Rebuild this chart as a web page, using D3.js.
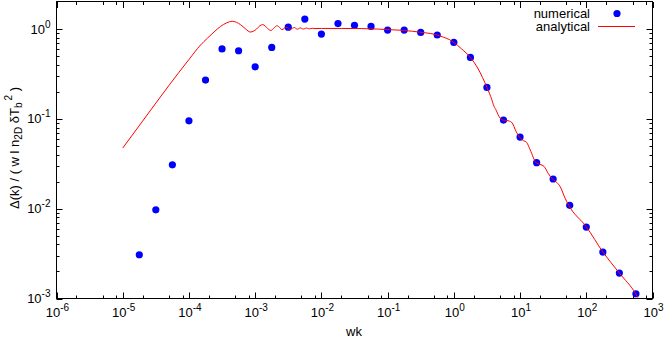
<!DOCTYPE html>
<html>
<head>
<meta charset="utf-8">
<script src="https://cdn.jsdelivr.net/npm/d3@7"></script>
<style>
  body { margin: 0; background: #fff; }
  svg { display: block; font-family: "Liberation Sans", Arial, sans-serif; }
</style>
</head>
<body>
<svg id="chart" width="664" height="338"></svg>
<script>
// numerical points
var numK = [1.78e-5, 3.16e-5, 5.62e-5, 1.0e-4, 1.78e-4, 3.16e-4, 5.62e-4, 1.0e-3, 1.78e-3, 3.16e-3,
  5.62e-3, 1.0e-2, 1.78e-2, 3.16e-2, 5.62e-2, 0.1, 0.178, 0.316, 0.562, 1.0,
  1.78, 3.16, 5.62, 10, 17.8, 31.6, 56.2, 100, 178, 316, 562];
var numV = [0.00307, 0.0097, 0.0308, 0.095, 0.27, 0.60, 0.573, 0.38, 0.624, 1.05,
  1.29, 0.88, 1.15, 1.10, 1.07, 0.975, 0.975, 0.917, 0.858, 0.71,
  0.483, 0.224, 0.097, 0.0627, 0.0325, 0.0214, 0.0109, 0.00624, 0.00329, 0.00192, 0.00113];

// analytical curve
var curveK = [1e-5, 2e-5, 5e-5, 1e-4, 1.5e-4, 1.9e-4, 2.4e-4, 3.0e-4, 3.7e-4, 4.5e-4,
  5.2e-4, 6.0e-4, 7.2e-4, 8.45e-4, 9.5e-4, 1.05e-3, 1.18e-3, 1.30e-3, 1.42e-3, 1.55e-3,
  1.73e-3, 1.93e-3, 2.14e-3, 2.34e-3, 2.54e-3, 2.75e-3, 2.95e-3, 3.17e-3, 3.39e-3, 3.65e-3,
  3.90e-3, 4.1e-3, 4.33e-3, 4.55e-3, 4.80e-3, 5.05e-3, 5.33e-3, 5.6e-3, 5.92e-3, 6.25e-3,
  6.56e-3, 6.9e-3, 7.28e-3, 8.0e-3, 0.01, 0.02, 0.04, 0.07, 0.1, 0.178,
  0.316, 0.45, 0.562, 0.7, 0.85, 1.0, 1.31, 1.78, 2.33, 3.16, 3.75, 3.96,
  4.3, 5.0, 5.49, 6.31, 7.5, 8.71, 9.77, 11.2, 12.6, 14.2,
  17.5, 20.0, 23.1, 26.8, 30.8, 35.8, 40.2, 47.8, 54.3, 100,
  178, 316, 562, 600];
var curveV = [0.0473, 0.0946, 0.236, 0.458, 0.665, 0.79, 0.93, 1.07, 1.17, 1.22,
  1.19, 1.12, 1.0, 0.926, 0.95, 1.0, 1.09, 1.12, 1.08, 1.01,
  0.965, 1.03, 1.09, 1.04, 0.983, 1.02, 1.05, 1.02, 0.99, 1.02,
  1.04, 1.02, 0.995, 1.01, 1.03, 1.015, 1.0, 1.01, 1.025, 1.015,
  1.005, 1.012, 1.02, 1.012, 1.015, 1.015, 1.012, 1.0, 0.985, 0.965,
  0.92, 0.89, 0.858, 0.81, 0.765, 0.71, 0.60, 0.483, 0.36, 0.224, 0.163, 0.1435,
  0.127, 0.102, 0.097, 0.096, 0.0912, 0.0724, 0.0627, 0.0574, 0.0546, 0.0453,
  0.0325, 0.0311, 0.0295, 0.0245, 0.0214, 0.0196, 0.0177, 0.0131, 0.0109, 0.0063,
  0.0033, 0.00192, 0.00112, 0.00103];

var xTicks = [1e-6, 1e-5, 1e-4, 1e-3, 1e-2, 1e-1, 1e0, 1e1, 1e2, 1e3];
var yTicks = [1e-3, 1e-2, 1e-1, 1e0];
var seriesNames = ["numerical", "analytical"];

var pl = 56.5, pr = 652.5, pt = 2, pb = 298.5;

var svg = d3.select("#chart");

var x = d3.scaleLog().domain([1e-6, 1e3]).range([pl, pr]);
var y = d3.scaleLog().domain([1e-3, 2]).range([pb, pt]);

function exp(v) {
  return Math.round(Math.log10(v));
}

// minor ticks: x shows 2,5,8 per decade, y shows all
var xMinor = [];
xTicks.slice(0, -1).forEach(function (d) {
  [2, 5, 8].forEach(function (m) { xMinor.push(d * m); });
});
var yMinor = [];
yTicks.slice(0, -1).forEach(function (d) {
  for (var m = 2; m <= 9; m++) yMinor.push(d * m);
});

var axes = svg.append("g").attr("stroke", "#000").attr("stroke-width", 1);

function xTick(v, len) {
  var px = Math.round(x(v)) + 0.5;
  axes.append("line").attr("x1", px).attr("x2", px).attr("y1", pb).attr("y2", pb - len);
  axes.append("line").attr("x1", px).attr("x2", px).attr("y1", pt).attr("y2", pt + len);
}
function yTick(v, len) {
  var py = Math.round(y(v)) + 0.5;
  axes.append("line").attr("y1", py).attr("y2", py).attr("x1", pl).attr("x2", pl + len);
  axes.append("line").attr("y1", py).attr("y2", py).attr("x1", pr).attr("x2", pr - len);
}
xTicks.forEach(function (v) { xTick(v, 6); });
xMinor.forEach(function (v) { xTick(v, 3); });
yTicks.forEach(function (v) { yTick(v, 6); });
yMinor.forEach(function (v) { yTick(v, 3); });

// tick labels
var tl = svg.append("g").attr("font-size", 13).attr("fill", "#000");
xTicks.forEach(function (v) {
  var t = tl.append("text")
    .attr("x", x(v) + 1)
    .attr("y", 317)
    .attr("text-anchor", "middle");
  t.append("tspan").text("10");
  t.append("tspan").attr("dy", -6).attr("font-size", 10).text(exp(v));
});

yTicks.forEach(function (v) {
  var t = tl.append("text")
    .attr("x", 50.5)
    .attr("y", y(v) + 4.5)
    .attr("text-anchor", "end");
  t.append("tspan").text("10");
  t.append("tspan").attr("dy", -6).attr("font-size", 10).text(exp(v));
});

// axis titles
svg.append("text")
  .attr("x", 354)
  .attr("y", 336)
  .attr("text-anchor", "middle")
  .attr("font-size", 13)
  .text("wk");

var yl = svg.append("text")
  .attr("transform", "translate(19,148) rotate(-90)")
  .attr("text-anchor", "middle")
  .attr("font-size", 13);
yl.append("tspan").text("\u0394(k) / ( w l n");
yl.append("tspan").attr("dy", 3).attr("font-size", 10).text("2D");
yl.append("tspan").attr("dy", -3).text(" \u03b4T");
yl.append("tspan").attr("dy", 3).attr("font-size", 10).text("b");
yl.append("tspan").attr("dy", -10).attr("dx", 2).attr("font-size", 10).text("2");
yl.append("tspan").attr("dy", 7).text(" )");

// plot data
svg.append("clipPath").attr("id", "clip")
  .append("rect").attr("x", pl).attr("y", pt).attr("width", pr - pl).attr("height", pb - pt);

var plot = svg.append("g").attr("clip-path", "url(#clip)");

plot.selectAll("circle.num")
  .data(numK.map(function (k, i) { return [k, numV[i]]; }))
  .enter()
  .append("circle")
  .attr("class", "num")
  .attr("cx", function (d) { return x(d[0]); })
  .attr("cy", function (d) { return y(d[1]); })
  .attr("r", 3.6)
  .attr("fill", "#0000ff");

var line = d3.line()
  .x(function (d) { return x(d[0]); })
  .y(function (d) { return y(d[1]); })
  .curve(d3.curveMonotoneX);

plot.append("path")
  .datum(curveK.map(function (k, i) { return [k, curveV[i]]; }))
  .attr("d", line)
  .attr("fill", "none")
  .attr("stroke", "#ff0000")
  .attr("stroke-width", 1);

// frame on top
svg.append("rect")
  .attr("x", pl).attr("y", pt - 0.5)
  .attr("width", pr - pl).attr("height", pb - pt + 0.5)
  .attr("fill", "none")
  .attr("stroke", "#000")
  .attr("stroke-width", 1);

// key
var key = svg.append("g").attr("font-size", 13);
key.append("text").attr("x", 590).attr("y", 17.5).attr("text-anchor", "end").text(seriesNames[0]);
key.append("circle").attr("cx", 617).attr("cy", 13.5).attr("r", 3.6).attr("fill", "#0000ff");
key.append("text").attr("x", 590).attr("y", 31).attr("text-anchor", "end").text(seriesNames[1]);
key.append("line")
  .attr("x1", 598).attr("x2", 635).attr("y1", 26.5).attr("y2", 26.5)
  .attr("stroke", "#ff0000").attr("stroke-width", 1);
</script>
</body>
</html>
